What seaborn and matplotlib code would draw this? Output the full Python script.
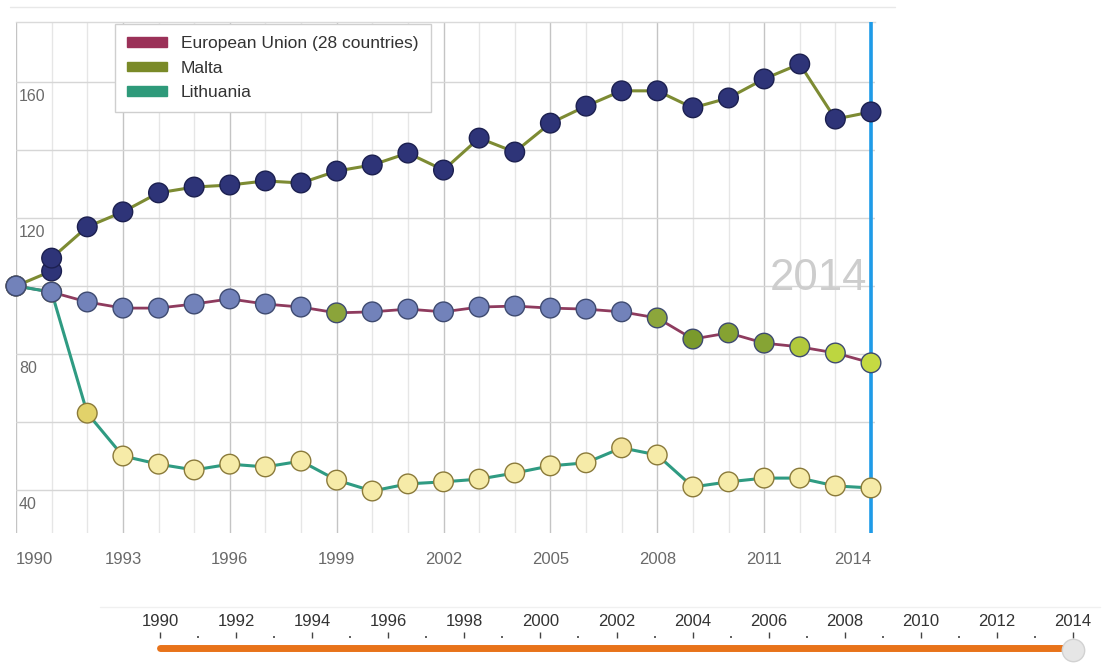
import matplotlib
matplotlib.use("Agg")
import matplotlib.pyplot as plt
import matplotlib.transforms as mtransforms
from matplotlib.patches import Patch
from matplotlib.lines import Line2D
import seaborn as sns
import pandas as pd

# ---------------- data ----------------
years = list(range(1990, 2015))
eu_values = [100, 98.2, 95.3, 93.5, 93.5, 94.7, 96.2, 94.7, 93.8, 92.1, 92.4, 93.2, 92.4,
             93.8, 94.1, 93.5, 93.2, 92.4, 90.6, 84.4, 86.2, 83.2, 82.1, 80.3, 77.4]
malta_years = [1990, 1991, 1991] + list(range(1992, 2015))
malta_values = [100, 104.4, 108.2, 117.4, 121.8, 127.4, 129.1, 129.7, 130.9, 130.3, 133.8,
                135.6, 139.1, 134.1, 143.5, 139.4, 147.9, 152.9, 157.4, 157.4, 152.4, 155.3,
                160.9, 165.3, 149.1, 151.2]
lithuania_values = [100, 98.2, 62.6, 50.0, 47.6, 45.9, 47.6, 46.8, 48.5, 42.9, 39.7, 41.8,
                    42.4, 43.2, 45.0, 47.1, 48.0, 52.4, 50.3, 40.9, 42.4, 43.5, 43.5, 41.2, 40.6]

BG = "#7282BA"
eu_marker_colors = [BG] * 9 + ["#8BA43A"] + [BG] * 8 + ["#8CA63B", "#7A9A2C", "#85A232",
                                                        "#86A434", "#B2CA3C", "#BDD640", "#C5DA42"]
malta_marker_colors = ["#2E3478"] * len(malta_values)
YL = "#F6EBA8"
lithuania_marker_colors = [BG, BG, "#E2D26A"] + [YL] * 14 + ["#F3E39C"] + [YL] * 7

series_names = ["European Union (28 countries)", "Malta", "Lithuania"]
line_colors = ["#8E3B5E", "#7D8B33", "#2F9B82"]
legend_colors = ["#9B3158", "#7A8A28", "#2E9A7A"]

y_gridlines = [40, 60, 80, 100, 120, 140, 160]
y_labels = [40, 80, 120, 160]
x_major = list(range(1990, 2015, 3))
slider_major = list(range(1990, 2015, 2))
slider_minor = list(range(1991, 2014, 2))
current_year = 2014

# ---------------- figure ----------------
sns.set_style("white")
plt.rcParams["font.family"] = ["Liberation Sans", "DejaVu Sans"]

W, H = 1107, 664
fig = plt.figure(figsize=(W / 100, H / 100), dpi=100)
fig.patch.set_facecolor("white")

L, R, T, B = 16, 875, 22, 533
ax = fig.add_axes([L / W, 1 - B / H, (R - L) / W, (B - T) / H])
ax.set_xlim(1990, 1990 + (R - L) / 35.625)
ax.set_ylim(40 - (B - 490) / 3.4, 160 + (82 - T) / 3.4)

# grid
for yr in years:
    ax.axvline(yr, color="#C4C4C4" if yr in x_major else "#E6E6E6", lw=1, zorder=0)
for gv in y_gridlines:
    ax.axhline(gv, color="#D6D6D6", lw=1, zorder=0)

for s in ["left", "right", "bottom"]:
    ax.spines[s].set_visible(False)
ax.spines["top"].set_color("#DADADA")
ax.spines["top"].set_linewidth(1)

# lines
df_eu = pd.DataFrame({"year": years, "value": eu_values, "c": eu_marker_colors})
df_mt = pd.DataFrame({"year": malta_years, "value": malta_values, "c": malta_marker_colors})
df_lt = pd.DataFrame({"year": years, "value": lithuania_values, "c": lithuania_marker_colors})

sns.lineplot(data=df_eu, x="year", y="value", color=line_colors[0], lw=2.0,
             estimator=None, sort=False, ax=ax, zorder=2)
sns.lineplot(data=df_mt, x="year", y="value", color=line_colors[1], lw=2.2,
             estimator=None, sort=False, ax=ax, zorder=2)
sns.lineplot(data=df_lt, x="year", y="value", color=line_colors[2], lw=2.2,
             estimator=None, sort=False, ax=ax, zorder=2)

for df, ec in [(df_mt, "#1C2050"), (df_lt, "#8A7A3A"), (df_eu, "#3E4A70")]:
    pal = {c: c for c in df["c"].unique()}
    sns.scatterplot(data=df, x="year", y="value", hue="c", palette=pal, legend=False,
                    s=200, edgecolor=ec, linewidth=1.0, ax=ax, zorder=4, clip_on=False)

# current-year marker line and watermark
ax.axvline(current_year, color="#1E9BE8", lw=2.6, zorder=3)
fig.text(867 / W, 1 - 279 / H, str(current_year), ha="right", va="center",
         fontsize=31.5, color="#CDCDCD")

# axis labels
ax.set_xlabel("")
ax.set_ylabel("")
ax.set_xticks(x_major)
ax.set_xticklabels([str(v) for v in x_major])
ax.set_yticks([])
ax.tick_params(axis="x", length=0, pad=14, labelsize=12, labelcolor="#6A6A6A")
xt = ax.get_xticklabels()
xt[0].set_horizontalalignment("left")
xt[-1].set_horizontalalignment("right")

ytrans = mtransforms.offset_copy(ax.get_yaxis_transform(), fig=fig, x=2, y=-5, units="points")
for v in y_labels:
    ax.text(0, v, str(v), transform=ytrans, ha="left", va="top", fontsize=11.5,
            color="#6A6A6A")

# legend
handles = [Patch(facecolor=c, edgecolor=c) for c in legend_colors]
leg = ax.legend(handles, series_names, loc="upper left",
                bbox_to_anchor=(115 / W, 1 - 24 / H), bbox_transform=fig.transFigure,
                borderaxespad=0, fontsize=12.5, handlelength=2.3, handleheight=0.45,
                labelspacing=0.55, borderpad=0.7, handletextpad=0.8, fancybox=False,
                frameon=True, framealpha=1, edgecolor="#CFCFCF")
for t in leg.get_texts():
    t.set_color("#333333")
leg.set_zorder(10)

# decoration lines
fig.add_artist(Line2D([10 / W, 895 / W], [1 - 7 / H, 1 - 7 / H], color="#E8E8E8", lw=1))
fig.add_artist(Line2D([100 / W, 1100 / W], [1 - 607 / H, 1 - 607 / H], color="#F0F0F0", lw=1))

# ---------------- slider ----------------
sx0, sx1 = 160, 1073
ax2 = fig.add_axes([sx0 / W, 1 - 658 / H, (sx1 - sx0) / W, 20 / H])
ax2.set_xlim(1990, 2014)
ax2.set_ylim(-1, 1)
ax2.patch.set_alpha(0)
for s in ax2.spines.values():
    s.set_visible(False)
ax2.plot([years[0], years[-1]], [0, 0], color="#E8731A", lw=5, solid_capstyle="round",
         clip_on=False)
ax2.scatter([current_year], [-0.2], s=260, color="#E6E6E6", edgecolor="#D2D2D2",
            linewidth=1, zorder=5, clip_on=False)
ax2.xaxis.tick_top()
ax2.set_xticks(slider_major)
ax2.set_xticks(slider_minor, minor=True)
ax2.set_xticklabels([str(v) for v in slider_major])
ax2.set_yticks([])
ax2.tick_params(axis="x", which="major", direction="out", length=4.5, width=1,
                color="#444444", pad=2, labelsize=12, labelcolor="#333333")
ax2.tick_params(axis="x", which="minor", direction="out", length=1.5, width=1.2,
                color="#444444")

fig.savefig("out.png", dpi=100, facecolor="white")
